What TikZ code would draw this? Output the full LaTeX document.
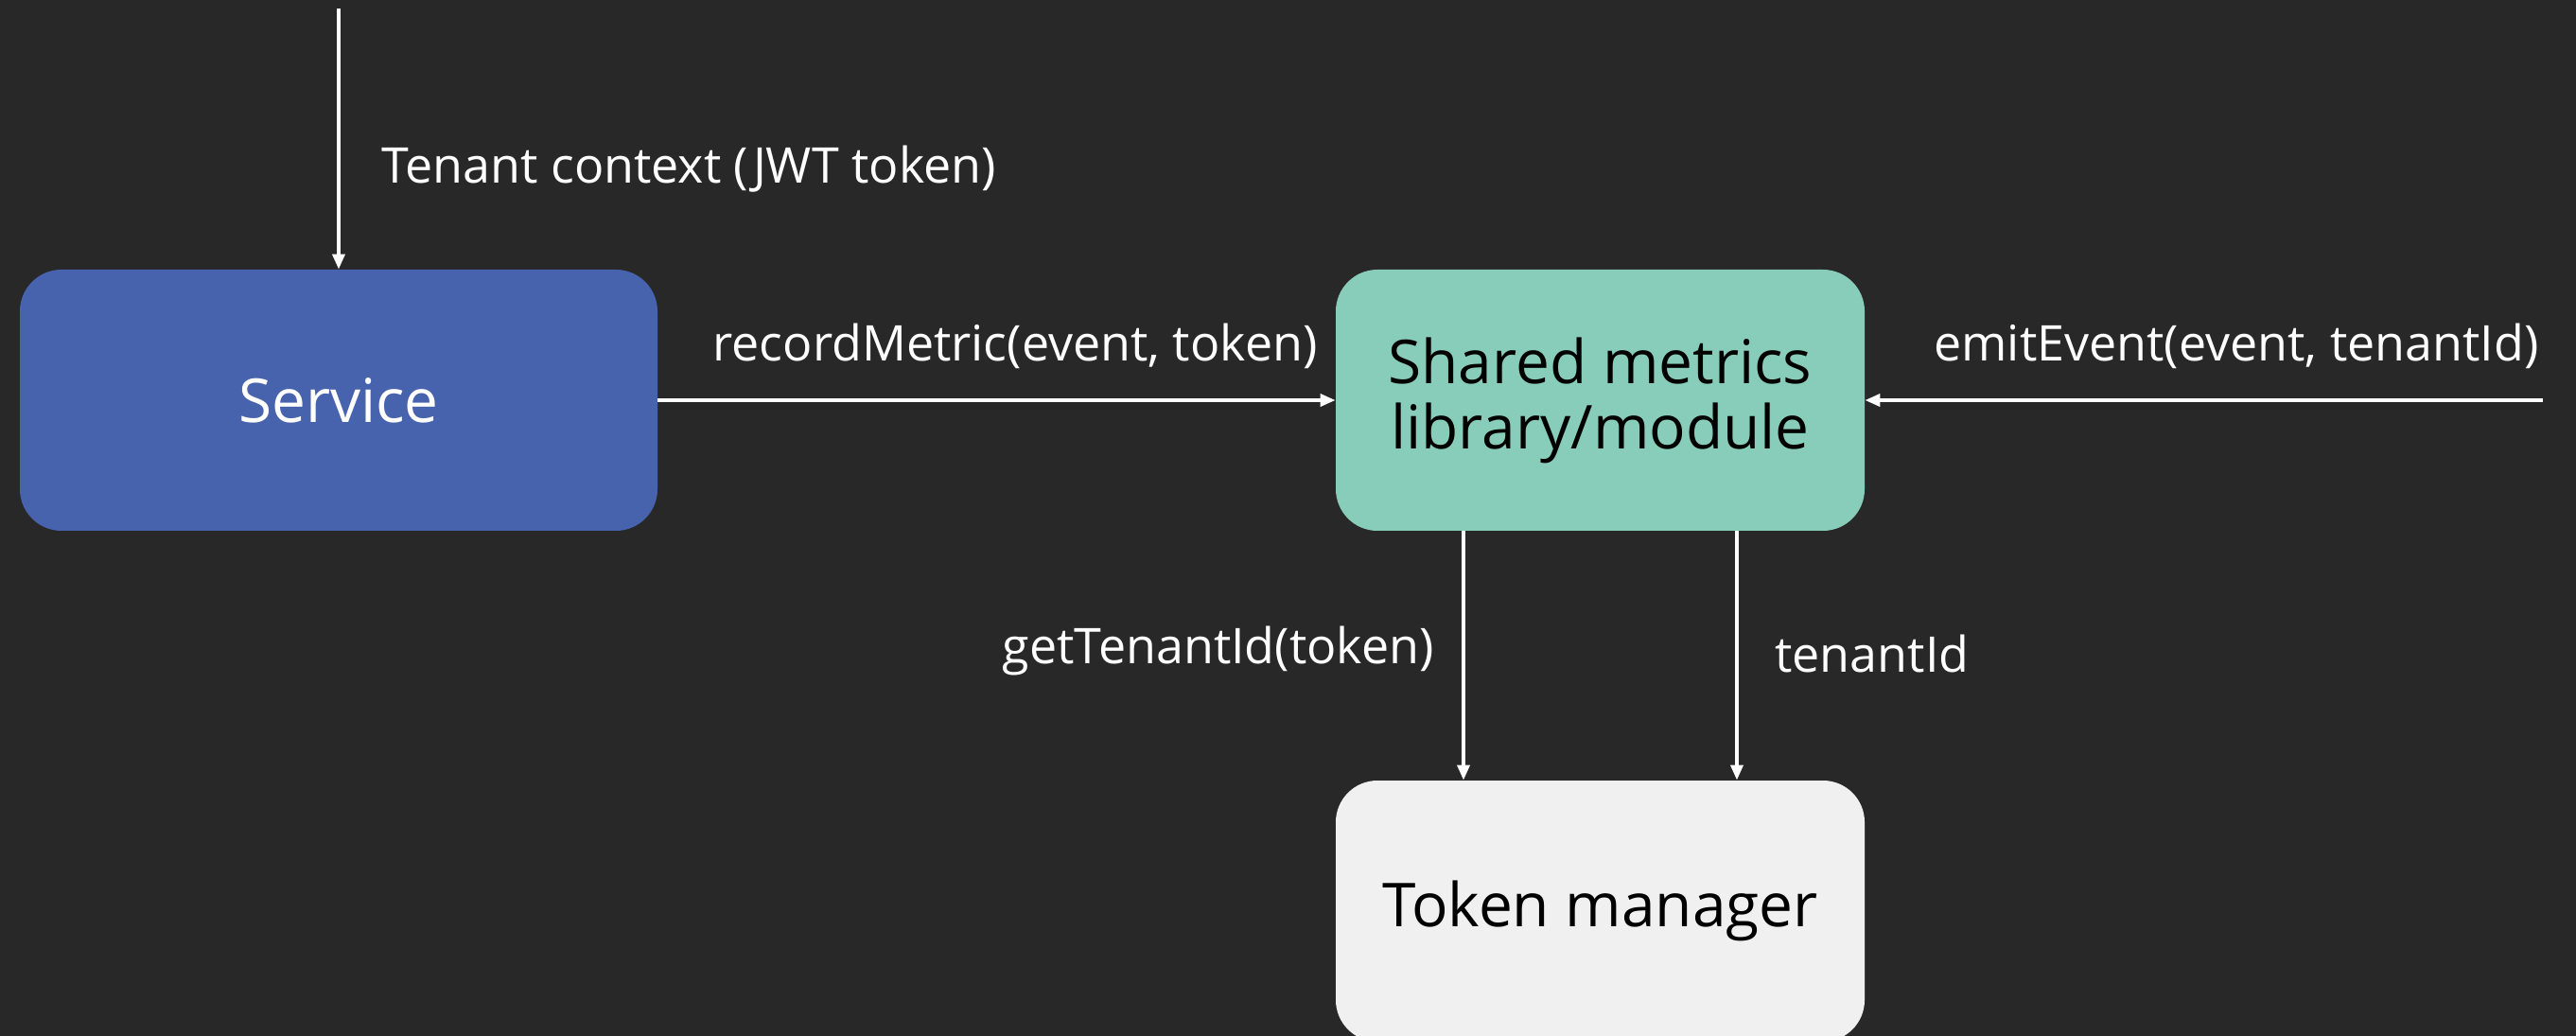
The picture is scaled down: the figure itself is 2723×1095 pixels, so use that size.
\documentclass[tikz,border=0pt]{standalone}
\usepackage{fontspec}
\setmainfont{Open Sans}
\usetikzlibrary{arrows.meta}
\definecolor{bg}{HTML}{282828}
\definecolor{svcblue}{HTML}{4863AD}
\definecolor{shmgreen}{HTML}{88CDB9}
\definecolor{tokgray}{HTML}{F0F0F0}
\tikzset{
  box/.style={rounded corners=22pt, minimum height=138pt, inner sep=0pt, align=center,
    font=\fontsize{32}{34.5}\selectfont},
  lbl/.style={text=white, inner sep=0pt, font=\fontsize{26}{31}\selectfont},
  arr/.style={draw=white, line width=1.8pt, -{Triangle[length=8pt,width=6.5pt]}}
}
\begin{document}
\begin{tikzpicture}[x=0.5pt,y=-0.5pt]
\path[fill=bg] (0,0) rectangle (2723,1095);
\useasboundingbox (0,0) rectangle (2723,1095);
\node[box, fill=svcblue, text=white, minimum width=337pt] (svc) at (358,423) {Service};
\node[box, fill=shmgreen, text=black, minimum width=279.5pt] (shm) at (1691.5,423) {Shared metrics\\library/module};
\node[box, fill=tokgray, text=black, minimum width=279.5pt] (tok) at (1691.5,963) {Token manager};
\coordinate (top) at (358,9);
\coordinate (emitstart) at (2688,423);
\coordinate (d1) at (1547,0);
\coordinate (d2) at (1836,0);
\draw[arr] (top) -- (svc.north);
\draw[arr] (svc.east) -- (shm.west);
\draw[arr] (emitstart) -- (shm.east);
\draw[arr] (d1 |- shm.south) -- (d1 |- tok.north);
\draw[arr] (d2 |- shm.south) -- (d2 |- tok.north);
\node[lbl, anchor=west] (l1) at (403,179) {Tenant context (JWT token)};
\node[lbl] (l2) at (1073,366) {recordMetric(event, token)};
\node[lbl] (l3) at (2364,366) {emitEvent(event, tenantId)};
\node[lbl, anchor=east] (l4) at (1516,688) {getTenantId(token)};
\node[lbl, anchor=west] (l5) at (1876,691) {tenantId};
\end{tikzpicture}
\end{document}
